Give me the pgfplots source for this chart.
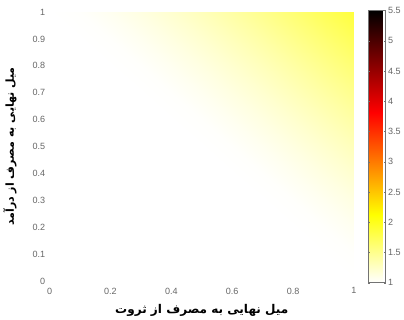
\documentclass[border=0pt]{standalone}
\usepackage{fontspec}
\setmainfont{Liberation Sans}
\newfontfamily\arabicfont[Script=Arabic]{DejaVu Sans}
\TeXXeTstate=1
\usepackage{pgfplots}
\usepackage{pgfplotstable}
\pgfplotsset{compat=1.18}
\pgfplotstableread{
x y c
0 0 1
0.1 0 1
0.2 0 1
0.3 0 1
0.4 0 1
0.5 0 1
0.6 0 1
0.7 0 1
0.8 0 1
0.9 0 1
1 0 1
0 0.1 1
0.1 0.1 1
0.2 0.1 1
0.3 0.1 1
0.4 0.1 1
0.5 0.1 1
0.6 0.1 1
0.7 0.1 1
0.8 0.1 1
0.9 0.1 1
1 0.1 1.014
0 0.2 1
0.1 0.2 1
0.2 0.2 1
0.3 0.2 1
0.4 0.2 1
0.5 0.2 1
0.6 0.2 1
0.7 0.2 1
0.8 0.2 1
0.9 0.2 1.014
1 0.2 1.065
0 0.3 1
0.1 0.3 1
0.2 0.3 1
0.3 0.3 1
0.4 0.3 1
0.5 0.3 1
0.6 0.3 1
0.7 0.3 1
0.8 0.3 1.014
0.9 0.3 1.065
1 0.3 1.132
0 0.4 1
0.1 0.4 1
0.2 0.4 1
0.3 0.4 1
0.4 0.4 1
0.5 0.4 1
0.6 0.4 1
0.7 0.4 1.014
0.8 0.4 1.065
0.9 0.4 1.132
1 0.4 1.211
0 0.5 1
0.1 0.5 1
0.2 0.5 1
0.3 0.5 1
0.4 0.5 1
0.5 0.5 1
0.6 0.5 1.014
0.7 0.5 1.065
0.8 0.5 1.132
0.9 0.5 1.211
1 0.5 1.300
0 0.6 1
0.1 0.6 1
0.2 0.6 1
0.3 0.6 1
0.4 0.6 1
0.5 0.6 1.014
0.6 0.6 1.065
0.7 0.6 1.132
0.8 0.6 1.211
0.9 0.6 1.300
1 0.6 1.397
0 0.7 1
0.1 0.7 1
0.2 0.7 1
0.3 0.7 1
0.4 0.7 1.014
0.5 0.7 1.065
0.6 0.7 1.132
0.7 0.7 1.211
0.8 0.7 1.300
0.9 0.7 1.397
1 0.7 1.503
0 0.8 1
0.1 0.8 1
0.2 0.8 1
0.3 0.8 1.014
0.4 0.8 1.065
0.5 0.8 1.132
0.6 0.8 1.211
0.7 0.8 1.300
0.8 0.8 1.397
0.9 0.8 1.503
1 0.8 1.614
0 0.9 1
0.1 0.9 1
0.2 0.9 1.014
0.3 0.9 1.065
0.4 0.9 1.132
0.5 0.9 1.211
0.6 0.9 1.300
0.7 0.9 1.397
0.8 0.9 1.503
0.9 0.9 1.614
1 0.9 1.732
0 1 1
0.1 1 1.014
0.2 1 1.065
0.3 1 1.132
0.4 1 1.211
0.5 1 1.300
0.6 1 1.397
0.7 1 1.503
0.8 1 1.614
0.9 1 1.732
1 1 1.855
}\datatable
\begin{document}
\begin{tikzpicture}
\begin{axis}[
  name=main,
  scale only axis, width=303pt, height=268pt,
  xmin=0, xmax=1, ymin=0, ymax=1, enlargelimits=false,
  axis line style={draw=none}, major tick length=0pt,
  xtick={0,0.2,0.4,0.6,0.8,1},
  ytick={0,0.1,0.2,0.3,0.4,0.5,0.6,0.7,0.8,0.9,1},
  /pgf/number format/assume math mode=true,
  tick label style={font=\fontsize{9}{10}\selectfont, text=black!60},
  xticklabel style={yshift=-3pt},
  yticklabel style={xshift=-1pt},
  xlabel={\arabicfont\bfseries\fontsize{12}{14}\selectfont\beginR میل نهایی به مصرف از ثروت\endR},
  ylabel={\arabicfont\bfseries\fontsize{11}{13}\selectfont\beginR میل نهایی به مصرف از درآمد\endR},
  xlabel style={yshift=-3pt},
  ylabel style={yshift=9pt},
  colormap={hotr}{rgb(0pt)=(1,1,1); rgb(2pt)=(1,1,0); rgb(5pt)=(1,0,0); rgb(8pt)=(0,0,0)},
  point meta min=1, point meta max=5.5,
  colorbar,
  colorbar style={
    width=17pt, height=271pt,
    at={(parent axis.north east)}, anchor=north west, xshift=6pt, yshift=1.5pt,
    ytick={1,1.5,2,2.5,3,3.5,4,4.5,5,5.5},
    axis line style={draw=black!55},
    major tick length=2pt,
    tick style={draw=black!55},
    /pgf/number format/assume math mode=true,
    yticklabel style={font=\fontsize{9}{10}\selectfont, text=black!60, xshift=-1pt},
  },
]
\addplot[surf, shader=interp, mesh/cols=11, point meta=explicit] table[x=x, y=y, meta=c] {\datatable};
\end{axis}
\path (main.north) ++(0,12pt);
\end{tikzpicture}
\end{document}
